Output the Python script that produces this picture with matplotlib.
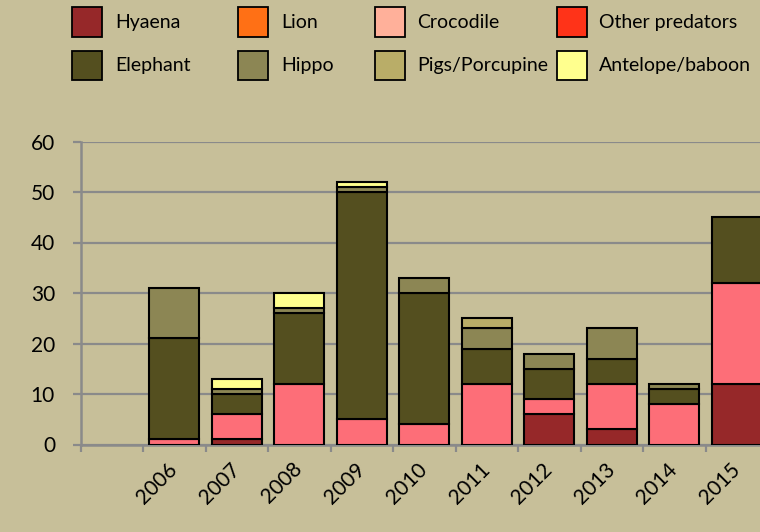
import numpy as np
import matplotlib
matplotlib.use("Agg")
import matplotlib.pyplot as plt
from matplotlib.patches import Rectangle

plt.rcParams['font.family'] = ['Lato', 'DejaVu Sans']

years = ['2006', '2007', '2008', '2009', '2010', '2011', '2012', '2013', '2014', '2015']
species = ['Hyaena', 'Lion', 'Crocodile', 'Other predators',
           'Elephant', 'Hippo', 'Pigs/Porcupine', 'Antelope/baboon']
hyaena = [0, 1, 0, 0, 0, 0, 6, 3, 0, 12]
lion = [0, 0, 0, 0, 0, 0, 0, 0, 0, 0]
crocodile = [1, 5, 12, 5, 4, 12, 3, 9, 8, 20]
other_predators = [0, 0, 0, 0, 0, 0, 0, 0, 0, 0]
elephant = [20, 4, 14, 45, 26, 7, 6, 5, 3, 13]
hippo = [10, 1, 1, 1, 3, 4, 3, 6, 1, 0]
pigs = [0, 0, 0, 0, 0, 2, 0, 0, 0, 0]
antelope = [0, 2, 3, 1, 0, 0, 0, 0, 0, 0]

series = [hyaena, lion, crocodile, other_predators, elephant, hippo, pigs, antelope]
bar_colors = ['#962829', '#FF7015', '#FD6E78', '#FF3318',
              '#544F1F', '#8C8654', '#B9AD68', '#FFFF8E']
legend_colors = ['#962829', '#FF7015', '#FFB09A', '#FF3318',
                 '#544F1F', '#8C8654', '#B9AD68', '#FFFF8E']
bg = '#C7BF99'
grey = '#8A8A8A'

W, H = 760, 532
fig = plt.figure(figsize=(W / 100, H / 100), dpi=100, facecolor=bg)

# axes box in pixels (runs past the right edge, as in the reference)
ax_l, ax_b, ax_t, ax_r = 80.7, 444.5, 141.5, 800
ax = fig.add_axes([ax_l / W, (H - ax_b) / H, (ax_r - ax_l) / W, (ax_b - ax_t) / H])
ax.set_facecolor(bg)

slot = 62.5  # pixels per category; the first category is left empty
x = np.arange(1, len(years) + 1)
bottom = np.zeros(len(years))
for vals, col in zip(series, bar_colors):
    v = np.array(vals, dtype=float)
    m = v > 0
    ax.bar(x[m], v[m], bottom=bottom[m], width=50 / slot, color=col,
           edgecolor='black', linewidth=1.5, zorder=3)
    bottom += v

ax.set_xlim(-0.5, -0.5 + (ax_r - ax_l) / slot)
ax.set_ylim(0, 60)
ax.set_yticks(range(0, 61, 10))
ax.yaxis.grid(True, color=grey, linewidth=1.6, zorder=0)

for s in ['top', 'right']:
    ax.spines[s].set_visible(False)
for s in ['left', 'bottom']:
    ax.spines[s].set_color(grey)
    ax.spines[s].set_linewidth(1.8)

ax.tick_params(axis='y', length=6, width=1.6, color=grey, pad=12.5,
               labelsize=15, labelcolor='black')

ax.set_xticks(np.arange(-0.5, len(years) + 1), minor=True)
ax.set_xticks(x, years, rotation=45, ha='right', va='center',
              rotation_mode='anchor')
ax.tick_params(axis='x', which='minor', length=5, width=1.6, color=grey)
ax.tick_params(axis='x', which='major', length=0, pad=15.5, labelsize=15)

# legend, two rows of four
col_px = [72.3, 238.3, 375, 556.7]
row_px = [7.3, 50.5]
for k, (name, col) in enumerate(zip(species, legend_colors)):
    r, c = divmod(k, 4)
    px, py = col_px[c], row_px[r]
    fig.patches.append(Rectangle((px / W, 1 - (py + 29.5) / H), 30 / W, 29.5 / H,
                                 transform=fig.transFigure, facecolor=col,
                                 edgecolor='black', linewidth=1.3))
    fig.text((px + 42.5) / W, 1 - (py + 15) / H, name, fontsize=14,
             va='center', ha='left')

fig.savefig('out.png', dpi=100, facecolor=bg)
